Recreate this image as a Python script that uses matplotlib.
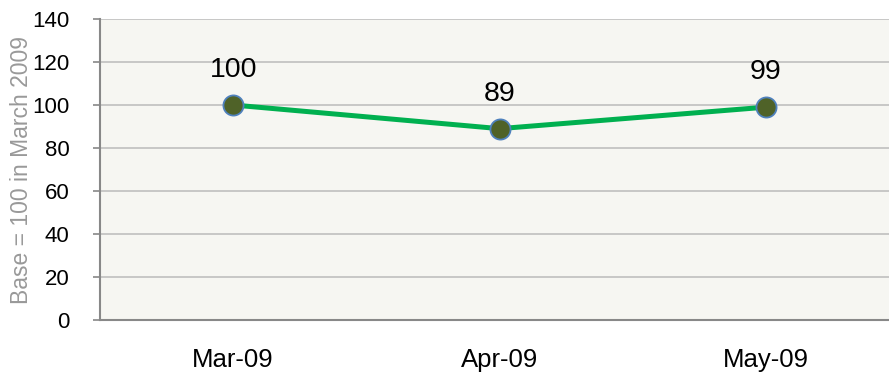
import matplotlib.pyplot as plt

plt.rcParams['font.family'] = ['Liberation Sans', 'DejaVu Sans']

months = ['Mar-09', 'Apr-09', 'May-09']
index_values = [100, 89, 99]
y_ticks = [0, 20, 40, 60, 80, 100, 120, 140]

fig = plt.figure(figsize=(8.89, 3.76), dpi=100)
ax = fig.add_axes([100 / 889, 56 / 376, 799 / 889, 301 / 376])
ax.set_facecolor('#F6F6F2')

x = range(len(months))
ax.plot(x, index_values, color='#00B050', lw=3.6, zorder=3,
        marker='o', ms=14.5, mfc='#4F6228', mec='#4F81BD', mew=1.3)

for i, v in zip(x, index_values):
    ax.annotate(str(v), (i, v), xytext=(0, 25), textcoords='offset points',
                ha='center', va='center', fontsize=20.5)

ax.set_xlim(-0.5, 2.5)
ax.set_ylim(0, 140)
ax.set_yticks(y_ticks)
ax.set_xticks(list(x))
ax.set_xticklabels(months)
ax.yaxis.grid(True, color='#BFBFBF', lw=1.2)
ax.set_axisbelow(True)

ax.tick_params(axis='y', length=5, width=1.2, color='#888888', pad=17, labelsize=16)
ax.tick_params(axis='x', length=0, pad=20, labelsize=18.5)

for s in ['top', 'right']:
    ax.spines[s].set_visible(False)
for s in ['left', 'bottom']:
    ax.spines[s].set_color('#888888')
    ax.spines[s].set_linewidth(1.5)

ax.set_ylabel('Base = 100 in March 2009', color='#999999', fontsize=16.5)
ax.yaxis.set_label_coords(-0.084, 0.5)

fig.savefig('out.png', dpi=100)
